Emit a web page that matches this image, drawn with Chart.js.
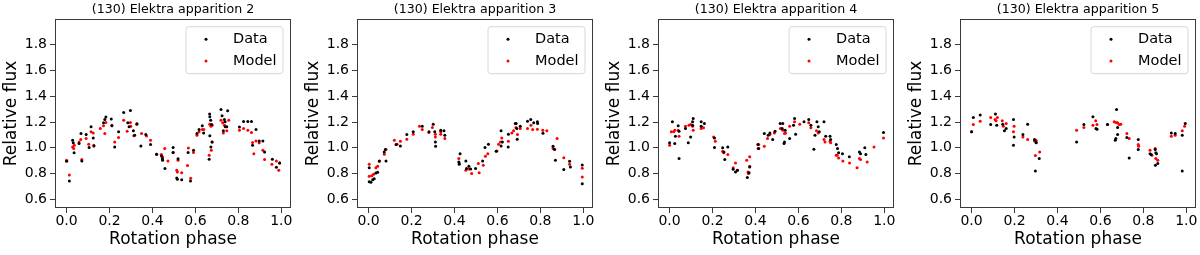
<!DOCTYPE html>
<html>
<head>
<meta charset="utf-8">
<script src="https://cdn.jsdelivr.net/npm/chart.js@4.4.1/dist/chart.umd.min.js"></script>
<style>
  html, body { margin: 0; padding: 0; background: #fff; }
  #wrap { position: relative; width: 1200px; height: 255px; overflow: hidden; }
  #wrap canvas { position: absolute; top: 0; }
</style>
</head>
<body>
<div id="wrap"></div>
<script>
// [rotation phase, relative flux]
var app2Data = [[0.0,0.896],[0.013,0.742],[0.028,1.059],[0.031,1.039],[0.035,0.961],[0.058,1.033],[0.067,1.111],[0.071,0.898],[0.091,1.104],[0.105,1.002],[0.114,1.163],[0.124,1.077],[0.127,1.015],[0.172,1.194],[0.178,1.220],[0.183,1.239],[0.208,1.223],[0.211,1.171],[0.224,1.007],[0.242,1.124],[0.266,1.275],[0.285,1.194],[0.291,1.163],[0.297,1.290],[0.311,1.132],[0.317,1.098],[0.327,1.184],[0.346,1.015],[0.369,1.104],[0.391,1.026],[0.419,0.950],[0.442,0.937],[0.446,0.916],[0.447,0.904],[0.458,0.839],[0.496,1.002],[0.496,0.963],[0.519,0.916],[0.513,0.766],[0.516,0.756],[0.536,0.753],[0.566,0.963],[0.577,0.742],[0.591,0.981],[0.607,1.111],[0.617,1.142],[0.632,1.171],[0.638,1.116],[0.666,1.262],[0.667,1.241],[0.671,1.215],[0.675,1.181],[0.667,1.093],[0.677,1.046],[0.672,1.007],[0.664,0.911],[0.719,1.298],[0.724,1.249],[0.735,1.220],[0.738,1.202],[0.739,1.163],[0.730,1.132],[0.750,1.288],[0.746,1.163],[0.805,1.161],[0.824,1.205],[0.844,1.205],[0.861,1.205],[0.882,1.142],[0.866,1.020],[0.897,1.054],[0.914,1.054],[0.922,0.968],[0.958,0.911],[0.977,0.849],[0.992,0.883]];
var app2Model = [[0.0,0.903],[0.013,0.789],[0.028,1.007],[0.033,0.994],[0.036,1.020],[0.058,1.046],[0.066,1.064],[0.071,0.909],[0.091,1.072],[0.103,1.028],[0.114,1.124],[0.124,1.116],[0.127,1.020],[0.157,1.150],[0.172,1.171],[0.183,1.197],[0.178,1.111],[0.211,1.176],[0.224,1.046],[0.242,1.080],[0.266,1.215],[0.282,1.129],[0.297,1.197],[0.299,1.168],[0.313,1.093],[0.328,1.189],[0.349,1.111],[0.372,1.091],[0.391,1.059],[0.419,0.950],[0.441,0.948],[0.447,0.929],[0.472,0.898],[0.496,0.963],[0.457,0.994],[0.519,0.904],[0.513,0.826],[0.516,0.813],[0.536,0.807],[0.563,0.862],[0.567,0.999],[0.578,0.763],[0.591,0.963],[0.607,1.098],[0.617,1.124],[0.632,1.142],[0.639,1.142],[0.666,1.184],[0.672,1.168],[0.678,1.176],[0.678,1.046],[0.674,0.981],[0.664,0.942],[0.719,1.215],[0.727,1.194],[0.735,1.176],[0.730,1.116],[0.746,1.132],[0.755,1.215],[0.805,1.137],[0.824,1.150],[0.844,1.137],[0.861,1.119],[0.866,1.041],[0.872,0.955],[0.882,1.054],[0.897,1.039],[0.914,0.981],[0.922,0.909],[0.956,0.872],[0.977,0.898],[0.992,0.883],[0.988,0.826]];

var app3Data = [[0.003,0.846],[0.003,0.737],[0.011,0.732],[0.019,0.753],[0.026,0.761],[0.034,0.805],[0.042,0.810],[0.050,0.898],[0.073,0.968],[0.081,0.898],[0.078,0.987],[0.128,1.026],[0.148,1.015],[0.178,1.104],[0.208,1.124],[0.250,1.168],[0.281,1.124],[0.301,1.184],[0.308,1.124],[0.311,1.046],[0.312,1.013],[0.336,1.137],[0.351,1.132],[0.355,1.098],[0.420,0.891],[0.422,0.872],[0.426,0.955],[0.453,0.898],[0.456,0.839],[0.467,0.857],[0.475,0.836],[0.498,0.839],[0.531,0.898],[0.542,1.002],[0.558,1.028],[0.594,0.974],[0.617,1.132],[0.623,1.046],[0.617,1.015],[0.651,1.106],[0.650,1.007],[0.683,1.189],[0.687,1.189],[0.690,1.150],[0.692,1.067],[0.706,1.168],[0.740,1.207],[0.755,1.220],[0.769,1.194],[0.786,1.202],[0.787,1.189],[0.812,1.114],[0.859,1.013],[0.865,0.989],[0.870,0.904],[0.909,0.831],[0.936,0.896],[0.940,0.852],[0.995,0.867],[0.995,0.722]];
var app3Model = [[0.003,0.872],[0.003,0.779],[0.015,0.784],[0.023,0.794],[0.034,0.846],[0.042,0.857],[0.050,0.896],[0.073,0.950],[0.081,0.987],[0.120,1.059],[0.133,1.028],[0.148,1.052],[0.178,1.067],[0.208,1.106],[0.237,1.168],[0.250,1.142],[0.281,1.119],[0.297,1.158],[0.311,1.106],[0.311,1.085],[0.336,1.124],[0.336,1.106],[0.355,1.072],[0.420,0.917],[0.423,0.878],[0.453,0.826],[0.467,0.836],[0.480,0.800],[0.511,0.878],[0.515,0.807],[0.534,0.865],[0.544,0.935],[0.555,0.955],[0.598,0.976],[0.605,1.028],[0.614,1.046],[0.620,1.077],[0.651,1.052],[0.667,1.116],[0.675,1.132],[0.686,1.158],[0.693,1.104],[0.706,1.150],[0.740,1.150],[0.756,1.176],[0.764,1.142],[0.786,1.145],[0.811,1.137],[0.830,1.132],[0.859,0.994],[0.867,0.987],[0.878,1.072],[0.909,0.924],[0.936,0.872],[0.995,0.841],[0.995,0.774]];

var app4Data = [[0.0,1.039],[0.013,1.202],[0.024,1.033],[0.027,1.090],[0.040,1.171],[0.044,0.917],[0.044,1.129],[0.074,1.150],[0.087,1.039],[0.098,1.085],[0.107,1.202],[0.110,1.228],[0.107,1.176],[0.147,1.202],[0.147,1.168],[0.162,1.189],[0.209,1.077],[0.209,1.002],[0.247,1.000],[0.253,0.968],[0.257,0.909],[0.271,1.007],[0.296,0.833],[0.307,0.813],[0.316,0.826],[0.362,0.769],[0.370,0.807],[0.373,0.852],[0.411,1.026],[0.415,0.994],[0.441,1.111],[0.459,1.098],[0.467,1.116],[0.480,1.065],[0.491,1.129],[0.515,1.189],[0.527,1.189],[0.524,1.150],[0.533,1.033],[0.535,1.046],[0.538,1.137],[0.559,1.072],[0.582,1.228],[0.577,1.176],[0.587,1.106],[0.626,1.202],[0.648,1.220],[0.658,1.176],[0.672,0.989],[0.686,1.202],[0.677,1.098],[0.692,1.163],[0.697,1.124],[0.719,1.202],[0.727,1.090],[0.747,1.090],[0.750,1.065],[0.776,1.026],[0.782,0.994],[0.787,0.961],[0.805,0.955],[0.837,0.930],[0.884,0.968],[0.889,0.955],[0.909,1.000],[0.914,0.948],[0.996,1.119]];
var app4Model = [[0.0,1.020],[0.008,1.124],[0.019,1.124],[0.024,1.137],[0.040,1.137],[0.044,1.090],[0.074,1.168],[0.090,1.176],[0.098,1.181],[0.107,1.168],[0.110,1.137],[0.147,1.150],[0.158,1.155],[0.205,1.085],[0.213,1.052],[0.247,0.974],[0.252,0.961],[0.271,0.948],[0.296,0.846],[0.307,0.883],[0.316,0.826],[0.359,0.904],[0.365,0.813],[0.367,0.800],[0.373,0.857],[0.373,0.930],[0.412,0.994],[0.415,1.026],[0.441,1.013],[0.456,1.072],[0.467,1.104],[0.488,1.116],[0.516,1.150],[0.527,1.137],[0.535,1.111],[0.540,1.116],[0.559,1.168],[0.582,1.202],[0.606,1.184],[0.648,1.194],[0.658,1.155],[0.684,1.132],[0.692,1.116],[0.719,1.065],[0.724,1.046],[0.747,1.052],[0.750,1.039],[0.776,0.943],[0.780,0.943],[0.787,0.922],[0.807,0.898],[0.838,0.883],[0.873,0.846],[0.884,0.917],[0.889,0.909],[0.920,0.891],[0.952,1.007],[0.996,1.077]];

var app5Data = [[0.0,1.124],[0.008,1.236],[0.040,1.254],[0.089,1.181],[0.111,1.262],[0.117,1.176],[0.145,1.184],[0.153,1.132],[0.161,1.150],[0.195,1.220],[0.198,1.085],[0.195,1.020],[0.239,1.104],[0.261,1.184],[0.293,1.065],[0.300,1.046],[0.301,1.039],[0.297,0.820],[0.315,0.917],[0.489,1.046],[0.523,1.181],[0.565,1.241],[0.579,1.150],[0.584,1.145],[0.633,1.181],[0.675,1.298],[0.669,1.059],[0.672,1.072],[0.680,1.158],[0.680,1.104],[0.723,1.080],[0.734,0.922],[0.776,1.065],[0.776,0.987],[0.831,0.955],[0.836,0.948],[0.855,0.987],[0.858,0.961],[0.861,0.955],[0.856,0.865],[0.867,0.878],[0.930,1.116],[0.948,1.111],[0.981,1.098],[0.981,0.820],[0.995,1.189]];
var app5Model = [[0.0,1.124],[0.008,1.181],[0.040,1.207],[0.089,1.236],[0.109,1.220],[0.114,1.210],[0.120,1.236],[0.143,1.210],[0.148,1.168],[0.161,1.189],[0.198,1.168],[0.195,1.124],[0.239,1.085],[0.261,1.065],[0.293,1.054],[0.300,1.059],[0.297,0.940],[0.317,0.968],[0.489,1.137],[0.523,1.158],[0.565,1.176],[0.578,1.210],[0.584,1.181],[0.633,1.181],[0.664,1.202],[0.672,1.197],[0.680,1.194],[0.687,1.181],[0.695,1.184],[0.723,1.111],[0.734,1.072],[0.776,1.026],[0.778,1.013],[0.831,0.981],[0.840,0.943],[0.855,0.994],[0.858,0.917],[0.867,0.904],[0.930,1.090],[0.948,1.098],[0.981,1.132],[0.992,1.168]];

var panelTitles = ['(130) Elektra apparition 2', '(130) Elektra apparition 3', '(130) Elektra apparition 4', '(130) Elektra apparition 5'];
var seriesLabels = ['Data', 'Model'];
var xTicks = [0.0, 0.2, 0.4, 0.6, 0.8, 1.0];
var yTicks = [0.6, 0.8, 1.0, 1.2, 1.4, 1.6, 1.8];

var FONT = '"DejaVu Sans", sans-serif';
var boxLefts = [55, 357, 658, 960];
var yAxisW = 55, boxW = 236, padRight = 4;

function toXY(pts) {
    return pts.map(function (p) { return { x: p[0], y: p[1] }; });
}

// frame, title and legend drawn the matplotlib way
var panelDecor = {
    id: 'panelDecor',
    afterDraw: function (chart, args, opts) {
        var ctx = chart.ctx, a = chart.chartArea;
        ctx.save();
        ctx.strokeStyle = '#3a3a3a';
        ctx.lineWidth = 1;
        ctx.strokeRect(Math.round(a.left) + 0.5, Math.round(a.top) + 0.5,
            Math.round(a.right - a.left) - 1, Math.round(a.bottom - a.top) - 1);

        ctx.fillStyle = '#000';
        ctx.font = '12.6px ' + FONT;
        ctx.textAlign = 'center';
        ctx.textBaseline = 'middle';
        ctx.fillText(opts.text, (a.left + a.right) / 2, 9.5);

        // legend
        var bw = 97, bh = 47, bx = a.right - 8 - bw, by = a.top + 7.7, r = 3;
        ctx.beginPath();
        ctx.moveTo(bx + r, by);
        ctx.arcTo(bx + bw, by, bx + bw, by + bh, r);
        ctx.arcTo(bx + bw, by + bh, bx, by + bh, r);
        ctx.arcTo(bx, by + bh, bx, by, r);
        ctx.arcTo(bx, by, bx + bw, by, r);
        ctx.closePath();
        ctx.fillStyle = 'rgba(255,255,255,0.8)';
        ctx.fill();
        ctx.strokeStyle = '#d6d6d6';
        ctx.stroke();

        var rows = [12.6, 34.3];
        ctx.font = '14.5px ' + FONT;
        ctx.textAlign = 'left';
        chart.data.datasets.forEach(function (ds, i) {
            ctx.fillStyle = ds.backgroundColor;
            ctx.beginPath();
            ctx.arc(bx + 20, by + rows[i], 1.5, 0, Math.PI * 2);
            ctx.fill();
            ctx.fillStyle = '#000';
            ctx.fillText(ds.label, bx + 47, by + rows[i]);
        });
        ctx.restore();
    }
};

var wrap = document.getElementById('wrap');
var allSeries = [[app2Data, app2Model], [app3Data, app3Model], [app4Data, app4Model], [app5Data, app5Model]];

allSeries.forEach(function (series, i) {
    var canvas = document.createElement('canvas');
    canvas.width = yAxisW + boxW + padRight;
    canvas.height = 255;
    canvas.style.left = (boxLefts[i] - yAxisW) + 'px';
    wrap.appendChild(canvas);

    new Chart(canvas, {
        type: 'scatter',
        data: {
            datasets: [
                { label: seriesLabels[0], data: toXY(series[0]), backgroundColor: '#000000',
                  pointRadius: 1.5, pointBorderWidth: 0, pointHoverRadius: 1.5 },
                { label: seriesLabels[1], data: toXY(series[1]), backgroundColor: '#ff0000',
                  pointRadius: 1.5, pointBorderWidth: 0, pointHoverRadius: 1.5 }
            ]
        },
        options: {
            responsive: false,
            animation: false,
            devicePixelRatio: 1,
            layout: { padding: { top: 19, right: padRight, left: 0, bottom: 0 } },
            plugins: {
                legend: { display: false },
                tooltip: { enabled: false },
                panelDecor: { text: panelTitles[i] }
            },
            scales: {
                x: {
                    type: 'linear', min: -0.054, max: 1.045,
                    afterBuildTicks: function (s) { s.ticks = xTicks.map(function (v) { return { value: v }; }); },
                    afterFit: function (s) { s.height = 47; },
                    ticks: { callback: function (v) { return v.toFixed(1); }, color: '#000',
                             font: { family: FONT, size: 14 }, padding: 0, maxRotation: 0, autoSkip: false },
                    grid: { drawOnChartArea: false, drawTicks: true, tickLength: 5, color: '#3a3a3a' },
                    border: { display: false },
                    title: { display: true, text: 'Rotation phase', color: '#000',
                             font: { family: FONT, size: 17 }, padding: { top: 0, bottom: 4.8 } }
                },
                y: {
                    type: 'linear', min: 0.533, max: 2.0,
                    afterBuildTicks: function (s) { s.ticks = yTicks.map(function (v) { return { value: v }; }); },
                    afterFit: function (s) { s.width = yAxisW; },
                    ticks: { callback: function (v) { return v.toFixed(1); }, color: '#000',
                             font: { family: FONT, size: 14 }, padding: 3 },
                    grid: { drawOnChartArea: false, drawTicks: true, tickLength: 5, color: '#3a3a3a' },
                    border: { display: false },
                    title: { display: true, text: 'Relative flux', color: '#000',
                             font: { family: FONT, size: 17 }, padding: { top: 1, bottom: 0 } }
                }
            }
        },
        plugins: [panelDecor]
    });
});
</script>
</body>
</html>
